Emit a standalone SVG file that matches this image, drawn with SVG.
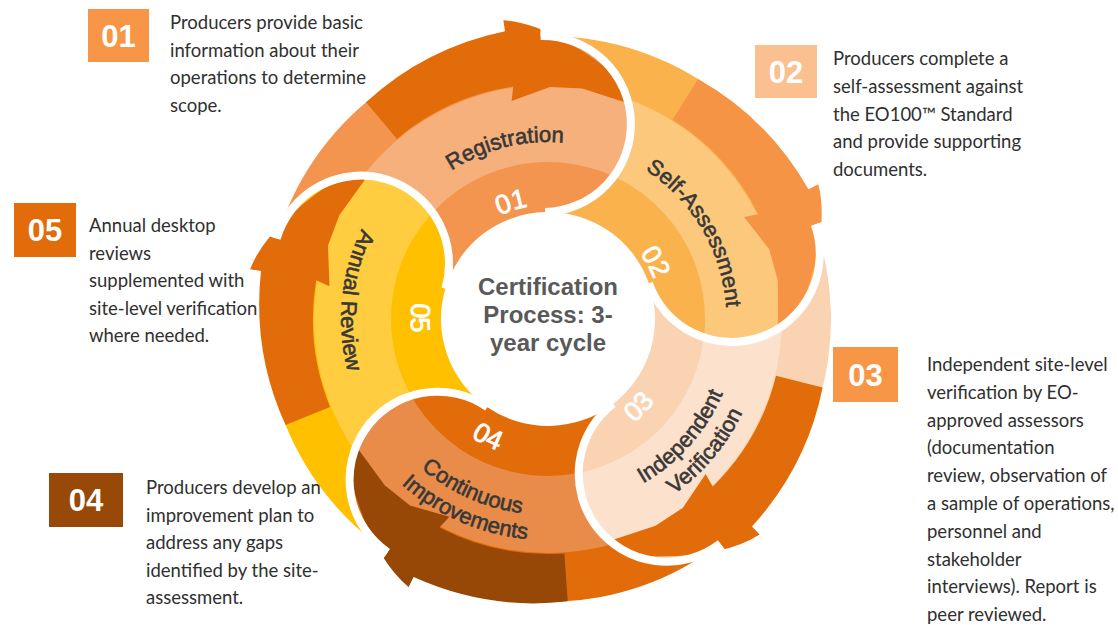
<svg xmlns="http://www.w3.org/2000/svg" width="1118" height="625" viewBox="0 0 1118 625">
<style>
.desc{font-family:Lato,"Liberation Sans",sans-serif;font-size:18.5px;fill:#303030}
.boxnum{font-family:"Liberation Sans",Arial,sans-serif;font-size:31px;font-weight:bold;fill:#ffffff;text-anchor:middle}
.lbl{font-family:"Liberation Sans",Arial,sans-serif;font-size:22px;fill:#383838;stroke:#383838;stroke-width:0.6}
.num{font-family:"Liberation Sans",Arial,sans-serif;font-size:27px;fill:#ffffff;stroke:#ffffff;stroke-width:0.8}
.center{font-family:"Liberation Sans",Arial,sans-serif;font-size:24px;font-weight:bold;fill:#595959;text-anchor:middle}
.sep{fill:none;stroke:#ffffff;stroke-width:8}
</style>
<defs>
<path id="segBody" d="M 278.85 231.55 A 283 283 0 0 1 548 36 A 88 88 0 0 1 548 212 A 107 107 0 0 0 446.24 285.93 A 88 88 0 0 0 278.85 231.55 Z"/>
<clipPath id="clipBody"><path d="M 278.85 231.55 A 283 283 0 0 1 548 36 A 88 88 0 0 1 548 212 A 107 107 0 0 0 446.24 285.93 A 88 88 0 0 0 278.85 231.55 Z"/></clipPath>
<clipPath id="clipExt"><path d="M 234.15 217.02 A 330 330 0 0 1 548 -11 L 548 36 A 88 88 0 0 1 548 212 A 107 107 0 0 0 446.24 285.93 A 88 88 0 0 0 278.85 231.55 Z"/></clipPath>
<path id="segArrow" d="M 371.83 97.52 Q 431.83 44.81 512.54 30.17 L 511.20 19.25 Q 572 24 665 116.35 L 588.46 89.54 L 556.10 87.14 L 517.24 100.15 L 519.36 85.75 A 235 235 0 0 0 401.71 135.09 Z"/>
<path id="capLine" d="M 548 36 A 88 88 0 0 1 548 212"/>
<path id="tp-reg" d="M 388.9 241.4 A 177 177 0 0 1 652.0 175.8"/>
<path id="tp-sa" d="M 576.8 143.4 A 179 179 0 0 1 716.2 380.2"/>
<path id="tp-ind" d="M 543.0 509.0 A 190 190 0 0 0 735.9 290.9"/>
<path id="tp-ver" d="M 548 535 A 216 216 0 0 0 760.7 281.5"/>
<path id="tp-con" d="M 359.6 373.0 A 196 196 0 0 0 633.9 495.2"/>
<path id="tp-imp" d="M 336.1 381.8 A 221 221 0 0 0 646.6 516.8"/>
<path id="tp-ann" d="M 430.8 148.4 A 207 207 0 0 0 400.4 464.1"/>
<path id="tp-n1" d="M 442.6 275.4 A 114 114 0 0 1 609.2 222.9"/>
<path id="tp-n2" d="M 571.5 208.5 A 113 113 0 0 1 652.8 361.3"/>
<path id="tp-n3" d="M 538.6 453.7 A 135 135 0 0 0 682.3 304.9"/>
<path id="tp-n4" d="M 410.6 350.7 A 141 141 0 0 0 603.1 448.8"/>
<path id="tp-n5" d="M 460.9 213.3 A 137 137 0 0 0 459.0 423.2"/>
</defs>
<rect width="1118" height="625" fill="#ffffff"/>

<g id="step-01">
<g transform="rotate(-1.5 548 319)">
<use href="#segBody" fill="#F4954F"/>
<circle cx="548" cy="319" r="195.5" fill="none" stroke="#F6B07B" stroke-width="77" clip-path="url(#clipBody)"/>
<use href="#segArrow" fill="#E36C0A" clip-path="url(#clipExt)"/>
</g>
<text class="lbl"><textPath href="#tp-reg" startOffset="50%" text-anchor="middle">Registration</textPath></text>
<text class="num"><textPath href="#tp-n1" startOffset="50%" text-anchor="middle">01</textPath></text>
</g>

<g id="step-02">
<g transform="rotate(70.5 548 319)">
<use href="#segBody" fill="#FAB24D"/>
<circle cx="548" cy="319" r="195.5" fill="none" stroke="#FCC87C" stroke-width="77" clip-path="url(#clipBody)"/>
<use href="#segArrow" fill="#F69446" clip-path="url(#clipExt)"/>
</g>
<text class="lbl"><textPath href="#tp-sa" startOffset="50%" text-anchor="middle">Self-Assessment</textPath></text>
<text class="num"><textPath href="#tp-n2" startOffset="50%" text-anchor="middle">02</textPath></text>
</g>

<g id="step-03">
<g transform="rotate(142.5 548 319)">
<use href="#segBody" fill="#FAD3B3"/>
<circle cx="548" cy="319" r="195.5" fill="none" stroke="#FCE1CC" stroke-width="77" clip-path="url(#clipBody)"/>
<use href="#segArrow" fill="#E36C0A" clip-path="url(#clipExt)"/>
</g>
<text class="lbl"><textPath href="#tp-ind" startOffset="50%" text-anchor="middle">Independent</textPath></text>
<text class="lbl"><textPath href="#tp-ver" startOffset="50%" text-anchor="middle">Verification</textPath></text>
<text class="num"><textPath href="#tp-n3" startOffset="50%" text-anchor="middle">03</textPath></text>
</g>

<g id="step-04">
<g transform="rotate(214.5 548 319)">
<use href="#segBody" fill="#E36C0A"/>
<circle cx="548" cy="319" r="195.5" fill="none" stroke="#E98C4A" stroke-width="77" clip-path="url(#clipBody)"/>
<use href="#segArrow" fill="#974806" clip-path="url(#clipExt)"/>
</g>
<text class="lbl"><textPath href="#tp-con" startOffset="50%" text-anchor="middle">Continuous</textPath></text>
<text class="lbl"><textPath href="#tp-imp" startOffset="50%" text-anchor="middle">Improvements</textPath></text>
<text class="num"><textPath href="#tp-n4" startOffset="50%" text-anchor="middle">04</textPath></text>
</g>

<g id="step-05">
<g transform="rotate(286.5 548 319)">
<use href="#segBody" fill="#FFC000"/>
<circle cx="548" cy="319" r="195.5" fill="none" stroke="#FFCD3F" stroke-width="77" clip-path="url(#clipBody)"/>
<use href="#segArrow" fill="#E36C0A" clip-path="url(#clipExt)"/>
</g>
<text class="lbl"><textPath href="#tp-ann" startOffset="50%" text-anchor="middle">Annual Review</textPath></text>
<text class="num"><textPath href="#tp-n5" startOffset="50%" text-anchor="middle">05</textPath></text>
</g>

<g id="separators">
<use href="#capLine" class="sep" transform="rotate(-1.5 548 319)"/>
<use href="#capLine" class="sep" transform="rotate(70.5 548 319)"/>
<use href="#capLine" class="sep" transform="rotate(142.5 548 319)"/>
<use href="#capLine" class="sep" transform="rotate(214.5 548 319)"/>
<use href="#capLine" class="sep" transform="rotate(286.5 548 319)"/>
</g>

<g id="center">
<text class="center" x="548" y="295">Certification</text>
<text class="center" x="548" y="323">Process: 3-</text>
<text class="center" x="548" y="351">year cycle</text>
</g>

<g id="desc-01">
<rect x="88" y="9" width="61" height="53" fill="#F79646"/>
<text class="boxnum" x="118.5" y="46.5">01</text>
<text class="desc"><tspan x="170" y="29">Producers provide basic</tspan><tspan x="170" y="56.5">information about their</tspan><tspan x="170" y="84">operations to determine</tspan><tspan x="170" y="111.5">scope.</tspan></text>
</g>

<g id="desc-02">
<rect x="755" y="45" width="62" height="53" fill="#FAC090"/>
<text class="boxnum" x="786" y="82.5">02</text>
<text class="desc"><tspan x="833" y="65">Producers complete a</tspan><tspan x="833" y="92.8">self-assessment against</tspan><tspan x="833" y="120.6">the EO100™ Standard</tspan><tspan x="833" y="148.4">and provide supporting</tspan><tspan x="833" y="176.2">documents.</tspan></text>
</g>

<g id="desc-03">
<rect x="833" y="347" width="65" height="55" fill="#F79646"/>
<text class="boxnum" x="865.5" y="385.5">03</text>
<text class="desc"><tspan x="927" y="371">Independent site-level</tspan><tspan x="927" y="398.8">verification by EO-</tspan><tspan x="927" y="426.6">approved assessors</tspan><tspan x="927" y="454.4">(documentation</tspan><tspan x="927" y="482.2">review, observation of</tspan><tspan x="927" y="510">a sample of operations,</tspan><tspan x="927" y="537.8">personnel and</tspan><tspan x="927" y="565.6">stakeholder</tspan><tspan x="927" y="593.4">interviews). Report is</tspan><tspan x="927" y="621.2">peer reviewed.</tspan></text>
</g>

<g id="desc-04">
<rect x="49" y="473" width="74" height="54" fill="#984807"/>
<text class="boxnum" x="86" y="511">04</text>
<text class="desc"><tspan x="146" y="494">Producers develop an</tspan><tspan x="146" y="521.5">improvement plan to</tspan><tspan x="146" y="549">address any gaps</tspan><tspan x="146" y="576.5">identified by the site-</tspan><tspan x="146" y="604">assessment.</tspan></text>
</g>

<g id="desc-05">
<rect x="14" y="203" width="62" height="54" fill="#E36C0A"/>
<text class="boxnum" x="45" y="241">05</text>
<text class="desc"><tspan x="89" y="232">Annual desktop</tspan><tspan x="89" y="259.5">reviews</tspan><tspan x="89" y="287">supplemented with</tspan><tspan x="89" y="314.5">site-level verification</tspan><tspan x="89" y="342">where needed.</tspan></text>
</g>
<g id="connectors"/>
</svg>
